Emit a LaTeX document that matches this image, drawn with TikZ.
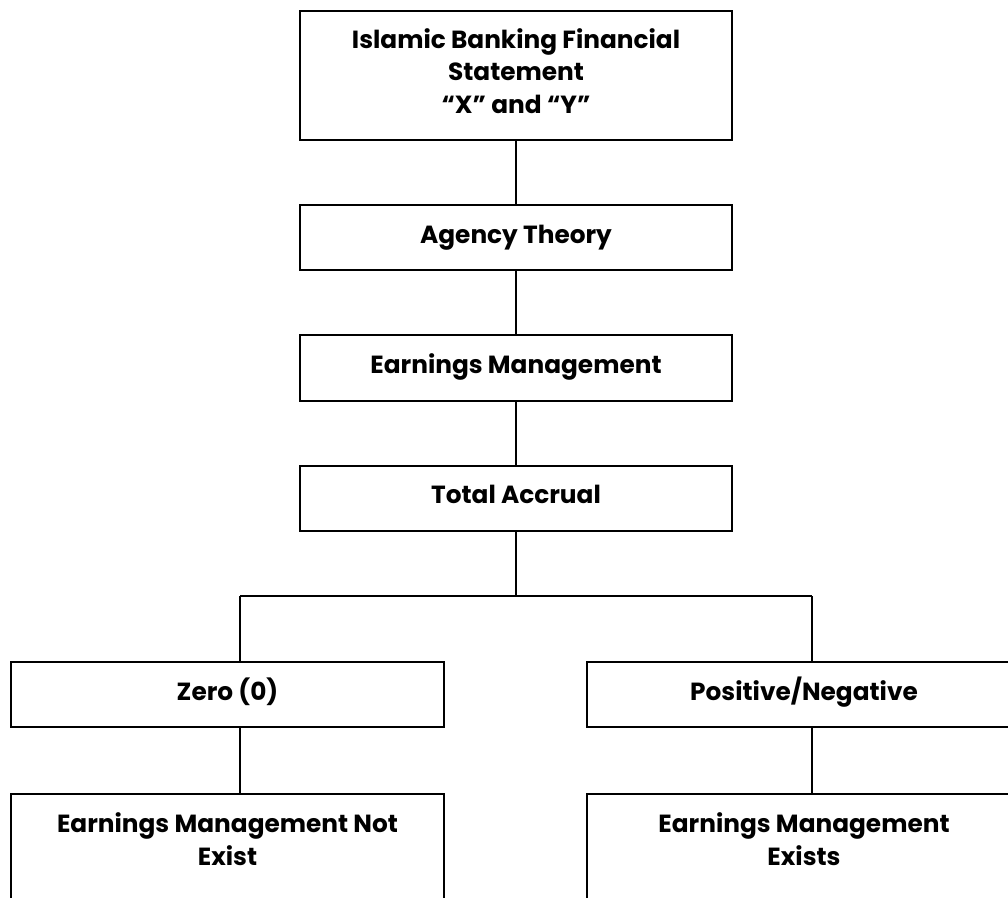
\documentclass[tikz,border=0pt]{standalone}
\usepackage{fontspec}
\setmainfont{Poppins}
\begin{document}
\begin{tikzpicture}[x=1pt,y=-1pt,
  box/.style={draw=black, line width=2pt, rectangle, inner sep=0pt, outer sep=0pt},
  txt/.style={anchor=base, align=center, inner sep=0pt, font=\bfseries\fontsize{24.8}{32.5}\selectfont},
  link/.style={draw=black, line width=1.8pt}]
\clip (0,0) rectangle (1008,897);
\fill[white] (0,0) rectangle (1008,897);
% boxes
\node[box, minimum width=432, minimum height=129] (top) at (516,75.5) {};
\node[box, minimum width=432, minimum height=65] (agency) at (516,237.5) {};
\node[box, minimum width=432, minimum height=66] (em) at (516,368) {};
\node[box, minimum width=432, minimum height=65] (ta) at (516,498.5) {};
\node[box, minimum width=433, minimum height=65] (zero) at (227.5,694.5) {};
\node[box, minimum width=434, minimum height=65] (pos) at (804,694.5) {};
\node[box, minimum width=433, minimum height=130] (nexist) at (227.5,859) {};
\node[box, minimum width=434, minimum height=130] (exist) at (804,859) {};
% texts (base anchor = baseline of the last line)
\node[txt] (ttop) at (516,113) {Islamic Banking Financial\\Statement\\“X” and “Y”};
\node[txt] (tagency) at (516,243) {Agency Theory};
\node[txt] (tem) at (516,373) {Earnings Management};
\node[txt] (tta) at (516,503) {Total Accrual};
\node[txt] (tzero) at (227.5,700) {Zero (0)};
\node[txt] (tpos) at (804,700) {Positive/Negative};
\node[txt] (tnexist) at (227.5,865) {Earnings Management Not\\Exist};
\node[txt] (texist) at (804,865) {Earnings Management\\Exists};
% connectors
\coordinate (j) at (516,596);
\coordinate (jl) at (240,596);
\coordinate (jr) at (812,596);
\draw[link] (top.south) -- (agency.north);
\draw[link] (agency.south) -- (em.north);
\draw[link] (em.south) -- (ta.north);
\draw[link] (ta.south) -- (j);
\draw[link] (jl) -- (jr);
\draw[link] (jl) -- (jl |- zero.north);
\draw[link] (jr) -- (jr |- pos.north);
\draw[link] (jl |- zero.south) -- (jl |- nexist.north);
\draw[link] (jr |- pos.south) -- (jr |- exist.north);
\end{tikzpicture}
\end{document}
